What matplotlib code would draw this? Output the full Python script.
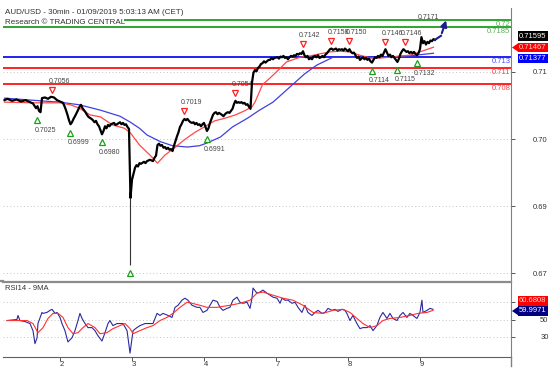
import matplotlib
matplotlib.use('Agg')
import matplotlib.pyplot as plt
from matplotlib.patches import Polygon, Rectangle
from matplotlib.lines import Line2D

plt.rcParams['font.family'] = ['Liberation Sans', 'DejaVu Sans']

# ---- data (x = 30min bar index, day "2" starts at bar 48) ----
day_ticks = [48, 96, 144, 192, 240, 288]
day_labels = ['2', '3', '4', '7', '8', '9']

bars = [11, 13, 16, 19, 22, 25, 28, 30, 32, 33, 34, 35, 36, 38, 40, 42, 44, 46, 48, 50,
        51, 52, 53, 54, 55, 56, 57, 58, 60, 61, 62, 63, 64, 65, 66, 67, 69, 70, 71, 72,
        73, 74, 75, 76, 77, 78, 79, 80, 81, 82, 84, 85, 86, 88, 89, 90, 91, 92, 93, 94,
        95, 96, 97, 98, 99, 100, 101, 102, 104, 105, 106, 108, 110, 111, 112, 113, 114, 115, 116, 117,
        118, 119, 120, 121, 122, 123, 124, 125, 126, 127, 128, 129, 130, 131, 132, 133, 134, 135, 136, 137,
        138, 139, 140, 141, 142, 143, 144, 145, 146, 147, 148, 149, 150, 151, 152, 153, 154, 156, 157, 158,
        159, 160, 161, 162, 163, 164, 165, 166, 167, 168, 169, 170, 171, 172, 173, 174, 175, 176, 177, 178,
        179, 180, 181, 182, 183, 184, 185, 186, 187, 188, 189, 190, 191, 193, 194, 195, 196, 197, 198, 199,
        200, 201, 202, 203, 204, 205, 206, 207, 208, 209, 210, 211, 212, 213, 214, 215, 216, 217, 218, 219,
        220, 221, 222, 223, 224, 225, 226, 227, 228, 229, 230, 231, 232, 233, 234, 235, 236, 237, 238, 239,
        240, 241, 242, 243, 244, 245, 246, 247, 248, 249, 250, 251, 252, 253, 254, 255, 256, 257, 258, 259,
        260, 261, 262, 263, 264, 265, 266, 267, 268, 269, 270, 271, 272, 273, 274, 275, 276, 277, 278, 279,
        280, 281, 282, 283, 284, 285, 286, 287, 288, 289, 290, 291, 292, 293, 294, 295, 296, 297, 298]
closes = [.7058, .7060, .7057, .7059, .7056, .7058, .7055, .7053, .7046, .7049, .7042, .7040, .7061, .7062, .7060, .7063, .7062, .7058, .7056, .7054,
          .7049, .7043, .7036, .7028, .7022, .7025, .7030, .7034, .7043, .7048, .7051, .7046, .7043, .7040, .7036, .7033, .7030, .7028, .7025, .7027,
          .7022, .7019, .7013, .7007, .7012, .7019, .7016, .7021, .7019, .7022, .7024, .7021, .7022, .7025, .7022, .7024, .7021, .7022, .7018, .7015,
          .6912, .6939, .6948, .6957, .6961, .6959, .6964, .6963, .6966, .6964, .6967, .6969, .6967, .6972, .6975, .6991, .6993, .6990, .6991, .6987,
          .6988, .6985, .6987, .6984, .6985, .6982, .6990, .6997, .7004, .7010, .7018, .7022, .7027, .7030, .7028, .7030, .7027, .7025, .7024, .7025,
          .7022, .7024, .7021, .7022, .7019, .7022, .7024, .7018, .7012, .7016, .7024, .7030, .7036, .7039, .7040, .7037, .7039, .7036, .7034, .7037,
          .7039, .7040, .7039, .7042, .7045, .7052, .7057, .7054, .7055, .7054, .7055, .7053, .7054, .7051, .7052, .7048, .7045, .7084, .7099, .7103,
          .7101, .7106, .7108, .7112, .7113, .7116, .7114, .7116, .7118, .7118, .7121, .7119, .7121, .7122, .7120, .7123, .7122, .7124, .7121, .7122,
          .7119, .7122, .7124, .7123, .7125, .7124, .7127, .7126, .7128, .7127, .7131, .7125, .7122, .7124, .7119, .7121, .7119, .7123, .7124, .7122,
          .7125, .7121, .7122, .7124, .7122, .7126, .7128, .7131, .7134, .7135, .7133, .7134, .7135, .7132, .7134, .7133, .7134, .7132, .7135, .7133,
          .7131, .7134, .7130, .7128, .7129, .7125, .7121, .7123, .7118, .7120, .7122, .7119, .7121, .7118, .7120, .7116, .7114, .7118, .7122, .7121,
          .7124, .7122, .7126, .7124, .7129, .7134, .7129, .7124, .7126, .7122, .7124, .7121, .7118, .7115, .7120, .7127, .7131, .7134, .7132, .7130,
          .7131, .7128, .7130, .7128, .7130, .7127, .7125, .7128, .7134, .7152, .7143, .7146, .7141, .7145, .7143, .7147, .7146, .7149, .7148]
crash_bar = 95
crash_low = 0.6812

ma_fast_bars = [11, 31, 48, 55, 61, 68, 75, 83, 91, 95, 101, 108, 113, 118, 125, 131, 138, 145, 151, 158,
                165, 171, 176, 178, 183, 188, 195, 199, 208, 215, 221, 228, 235, 241, 248, 255, 261, 268, 275, 281,
                288, 297]
ma_fast = [.7055, .7054, .7054, .7051, .7046, .7036, .7033, .7021, .7016, .7009, .6991, .6976, .6964, .6976, .6988, .6999, .7010, .7019, .7027, .7031,
           .7036, .7042, .7048, .7055, .7081, .7091, .7106, .7115, .7122, .7124, .7127, .7130, .7131, .7130, .7125, .7121, .7121, .7122, .7124, .7125,
           .7130, .7137]
ma_slow_bars = [11, 35, 48, 61, 75, 88, 95, 101, 106, 115, 123, 133, 141, 146, 155, 163, 173, 181, 190, 197,
                203, 211, 219, 230, 241, 255, 268, 281, 297]
ma_slow = [.7061, .7057, .7055, .7051, .7043, .7034, .7025, .7016, .7006, .6996, .6990, .6988, .6990, .6994, .7003, .7018, .7031, .7043, .7055, .7069,
           .7081, .7097, .7110, .7122, .7122, .7121, .7122, .7124, .7128]

level_values = [0.7178, 0.7167, 0.7122, 0.7106, 0.7082]
level_labels = ['0.72', '0.7185', '0.713', '0.711', '0.708']
level_colors = ['#1e9e1e', '#1e9e1e', '#1010f0', '#ff1010', '#ff1010']
level_text_colors = ['#55b055', '#55b055', '#5050ff', '#ff4040', '#ff4040']

peak_bars = [43, 131, 165, 210, 229, 241, 265, 278]
peak_highs = [.7063, .7031, .7058, .7131, .7136, .7136, .7134, .7134]
peak_labels = ['0.7056', '0.7019', '0.7054', '0.7142', '0.7158', '0.7150', '0.7146', '0.7146']
trough_bars = [33, 55, 76, 95, 146, 256, 273, 286]
trough_lows = [.7040, .7021, .7007, .6812, .7012, .7114, .7115, .7125]
trough_labels = ['0.7025', '0.6999', '0.6980', '', '0.6991', '0.7114', '0.7115', '0.7132']

forecast_bars = [298, 302, 306]
forecast_prices = [.7148, .7154, .7181]
forecast_label = '0.7171'

price_ticks = [0.71, 0.70, 0.69, 0.68]
price_tick_labels = ['0.71', '0.70', '0.69', '0.67']

rsi_bars = [12.7, 19.3, 20, 21.3, 24.7, 28, 30, 31.3, 32.7, 33.3, 36, 36.7, 39.3, 41.3, 42.7, 44.7, 46, 48, 49.3, 51.3,
            53.3, 56, 58, 60, 61.3, 62.7, 64.7, 66.7, 69.3, 71.3, 73.3, 76, 78, 80, 81.3, 83.3, 86, 88, 90, 92.7,
            94.7, 96.7, 99.3, 101.3, 104.7, 108, 110, 112.7, 114.7, 116.7, 120, 122.7, 124.7, 126.7, 129.3, 131.3, 133.3, 136, 139.3, 141.3,
            143.3, 146, 148, 150, 152.7, 154.7, 156.7, 159.3, 161.3, 163.3, 166, 168, 170, 172.7, 174.7, 176, 176.7, 179.3, 181.3, 183.3,
            186, 188, 190, 192.7, 194.7, 196, 198, 200, 202.7, 204.7, 206.7, 209.3, 211.3, 213.3, 216, 218, 220, 222.7, 224.7, 226.7,
            229.3, 231.3, 233.3, 236, 238, 239.3, 241.3, 243.3, 246, 248, 250, 252.7, 254.7, 256.7, 259.3, 261.3, 263.3, 266, 268, 270,
            272.7, 274.7, 276.7, 279.3, 281.3, 283.3, 286, 288, 289.3, 290, 292.7, 294.7, 296.7]
rsi = [48.8, 50, 54.7, 48.8, 47.6, 45.3, 37, 22, 28.8, 45.3, 58.2, 57.1, 58.2, 60.6, 61.8, 57.1, 58.2, 52.4, 45.3, 37.1,
       24, 28.8, 37.1, 48.8, 57.1, 51.2, 45.3, 40.6, 40.6, 37.1, 31.2, 25, 34.7, 45.3, 48.8, 42.9, 45.3, 45.3, 45.3, 37.1,
       11, 37.1, 40.6, 42.9, 45.3, 45.3, 45.3, 57.1, 54.7, 57.1, 54.7, 52.4, 64.1, 66.5, 72.4, 74.7, 72.4, 66.5, 64.1, 64.1,
       58.2, 60.6, 66.5, 72.4, 71, 64.1, 60.6, 62.9, 64.1, 72.4, 75.9, 70, 68.8, 70, 62.9, 74.7, 86.5, 80.6, 81.8, 84.1,
       80.6, 78.2, 75.9, 74.7, 68.8, 74.7, 72.4, 72.4, 68.8, 70, 64.1, 58.2, 66.5, 58.2, 54.7, 58.2, 60.6, 57.1, 58.2, 62.9,
       60.6, 61.8, 59.4, 61.8, 60.6, 57.1, 48.8, 54.7, 45.3, 39.4, 40.6, 40.6, 42.9, 37.1, 42.9, 52.4, 58.2, 51.2, 57.1, 51.2,
       48.8, 54.7, 58.2, 52.4, 57.1, 54.7, 51.2, 58.2, 72.4, 58.2, 60.6, 62.9, 61.8]
rsi_ma_bars = [12.7, 26, 30, 33.3, 36.7, 40, 43.3, 46.7, 50, 53.3, 56.7, 60, 63.3, 66.7, 71.3, 74.7, 79.3, 83.3, 88, 91.3,
               94.7, 96.7, 101.3, 106, 110, 114.7, 119.3, 123.3, 128, 132.7, 136, 141.3, 146, 152.7, 161.3, 168, 174.7, 179.3, 183.3, 190,
               196.7, 203.3, 210, 216.7, 223.3, 230, 236.7, 241.3, 246, 250, 254.7, 259.3, 263.3, 268, 274.7, 281.3, 286.7, 292.7, 296.7]
rsi_ma = [48.8, 48.8, 45.3, 34.7, 40.6, 51.2, 57.1, 57.1, 52.4, 40.6, 33.5, 34.7, 40.6, 45.3, 40.6, 33.5, 34.7, 39.4, 42.9, 45.3,
          39.4, 33.5, 37.1, 40.6, 42.9, 48.8, 52.4, 57.1, 64.1, 70, 68.8, 66.5, 64.1, 64.1, 66.5, 68.8, 72.4, 80.6, 81.8, 78.2,
          74.7, 72.4, 66.5, 58.2, 57.1, 60.6, 61.8, 58.2, 51.2, 45.3, 40.6, 42.9, 48.8, 51.2, 52.4, 54.7, 57.1, 58.2, 60.6]
rsi_ticks = [70, 50, 30]
rsi_tick_labels = ['', '50', '30']

W, H = 554, 372


def fx(px):
    return px / W


def fy(py):
    return 1 - py / H


fig = plt.figure(figsize=(W / 100, H / 100), dpi=100)
ax = fig.add_axes([fx(3), fy(281), fx(508), 273 / H])
ax_rsi = fig.add_axes([fx(3), fy(357), fx(508), 75 / H])

# ---- price pane ----
for t in price_ticks:
    ax.axhline(t, color='#c4c4c4', lw=0.7, ls=(0, (1, 2.5)), zorder=0)

for val, col in zip(level_values, level_colors):
    ax.axhline(val, color=col, lw=1.3, zorder=2)
for val, lab, col in zip(level_values, level_labels, level_text_colors):
    ax.annotate(lab, xy=(1, val), xycoords=('axes fraction', 'data'), xytext=(-0.5, -0.8),
                textcoords='offset points', ha='right', va='top', fontsize=5.5, color=col)

ax.plot(ma_slow_bars, ma_slow, color='#4040e0', lw=0.9, zorder=3)
ax.plot(ma_fast_bars, ma_fast, color='#ff4848', lw=0.9, zorder=3)
ax.plot(bars, closes, color='black', lw=1.6, zorder=4)
ax.vlines(crash_bar, crash_low, closes[bars.index(crash_bar)], color='#333333', lw=0.8, zorder=4)

for b, p, lab in zip(peak_bars, peak_highs, peak_labels):
    ax.plot(b, p, marker='v', ms=5, mfc='white', mec='#ff2020', mew=0.9, zorder=5,
            transform=ax.transData + matplotlib.transforms.ScaledTranslation(0, 7 / 100, fig.dpi_scale_trans))
    ax.annotate(lab, xy=(b, p), xytext=(-3, 11), textcoords='offset points', ha='left',
                va='center', fontsize=5, color='#444444')
for b, p, lab in zip(trough_bars, trough_lows, trough_labels):
    ax.plot(b, p, marker='^', ms=5, mfc='white', mec='#1e9e1e', mew=0.9, zorder=5,
            transform=ax.transData + matplotlib.transforms.ScaledTranslation(0, -8 / 100, fig.dpi_scale_trans))
    if lab:
        ax.annotate(lab, xy=(b, p), xytext=(-2, -13), textcoords='offset points', ha='left',
                    va='center', fontsize=5, color='#444444')

ax.plot(forecast_bars[:2], forecast_prices[:2], color='#1c1c8c', lw=1.5, zorder=6)
ax.annotate('', xy=(forecast_bars[2], forecast_prices[2]), xytext=(forecast_bars[1], forecast_prices[1]),
            arrowprops=dict(arrowstyle='-|>', color='#1c1c8c', lw=1.5, mutation_scale=9), zorder=6)
ax.annotate(forecast_label, xy=(forecast_bars[2], forecast_prices[2]), xytext=(-13.5, 0),
            textcoords='offset points', ha='center', va='center', fontsize=5, color='#444444', zorder=6)

ax.set_xlim(10, 348.7)
ax.set_ylim(0.67881, 0.71955)
ax.set_xticks([])
ax.yaxis.tick_right()
ax.set_yticks(price_ticks, labels=price_tick_labels)
ax.tick_params(axis='y', direction='out', length=3, width=0.7, pad=13, labelsize=5.5,
               colors='#555555', labelcolor='#333333')
for s in ['top', 'left', 'bottom']:
    ax.spines[s].set_visible(False)
ax.spines['right'].set_color('#808080')

# ---- RSI pane ----
for t in rsi_ticks:
    ax_rsi.axhline(t, color='#c4c4c4', lw=0.7, ls=(0, (1, 2.5)), zorder=0)
ax_rsi.plot(rsi_bars, rsi, color='#2a2aa0', lw=0.8, zorder=3)
ax_rsi.plot(rsi_ma_bars, rsi_ma, color='#ff3030', lw=0.8, zorder=4)
ax_rsi.set_xlim(10, 348.7)
ax_rsi.set_ylim(6.5, 93.5)
ax_rsi.yaxis.tick_right()
ax_rsi.set_yticks(rsi_ticks, labels=rsi_tick_labels)
ax_rsi.tick_params(axis='y', direction='out', length=3, width=0.7, pad=18, labelsize=5.5,
                   colors='#555555', labelcolor='#333333')
ax_rsi.set_xticks(day_ticks, labels=day_labels)
ax_rsi.tick_params(axis='x', direction='out', length=3, width=0.7, pad=0, labelsize=5.5,
                   colors='#555555', labelcolor='#333333')
for lbl in ax_rsi.get_xticklabels():
    lbl.set_horizontalalignment('left')
ax_rsi.spines['left'].set_visible(False)
ax_rsi.spines['top'].set_color('#8c8c8c')
ax_rsi.spines['top'].set_linewidth(1.6)
ax_rsi.spines['bottom'].set_color('#606060')
ax_rsi.spines['right'].set_color('#808080')
fig.add_artist(Line2D([fx(511), fx(511)], [fy(357), fy(366)], color='#808080', lw=1))
fig.add_artist(Line2D([0, fx(3)], [fy(281.2), fy(281.2)], color='#8c8c8c', lw=1.6))

# ---- texts and value boxes ----
fig.add_artist(Rectangle((0, fy(24.5)), fx(124), 8 / H, fc='white', ec='none',
                         transform=fig.transFigure, zorder=1))
fig.text(fx(5), fy(12), 'AUD/USD - 30min - 01/09/2019 5:03:13 AM (CET)', fontsize=5.8,
         va='center', color='#333333')
fig.text(fx(5), fy(22), 'Research © TRADING CENTRAL', fontsize=5.8, va='center', color='#333333')
fig.text(fx(5), fy(289), 'RSI14 - 9MA', fontsize=5.5, va='center', color='#333333')


def value_box(y_px, text, fc, tc, arrow):
    fig.text(fx(519), fy(y_px), text, fontsize=5.5, va='center', ha='left', color=tc,
             bbox=dict(boxstyle='square,pad=0.18', fc=fc, ec='none'))
    if arrow:
        fig.add_artist(Polygon([[fx(512), fy(y_px)], [fx(518.5), fy(y_px - 4.5)], [fx(518.5), fy(y_px + 4.5)]],
                               closed=True, fc=fc, ec='none', transform=fig.transFigure))


value_box(36, '0.71595', 'black', 'white', False)
value_box(47.5, '0.71467', '#ff0000', '#ffd0d0', True)
value_box(58.5, '0.71377', '#0000ff', 'white', False)
value_box(301, '60.6808', '#ff0000', '#ffd0d0', False)
value_box(311, '59.9971', '#000080', 'white', True)

fig.savefig('out.png', dpi=100)
